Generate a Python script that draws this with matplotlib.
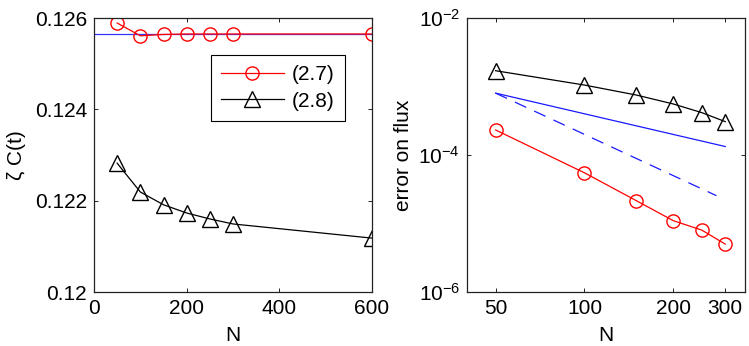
import matplotlib
matplotlib.use("Agg")
import matplotlib.pyplot as plt
from matplotlib.ticker import FixedLocator, FixedFormatter, NullLocator

plt.rcParams['font.family'] = ['Liberation Sans', 'DejaVu Sans']
plt.rcParams['font.size'] = 15
plt.rcParams['mathtext.fontset'] = 'custom'
plt.rcParams['mathtext.rm'] = 'Liberation Sans'

# left panel: zeta C(t) against N
N_left = [50, 100, 150, 200, 250, 300, 600]
zc_27 = [0.12589, 0.12561, 0.12564, 0.12565, 0.12565, 0.12565, 0.12565]
zc_28 = [0.12282, 0.12219, 0.12191, 0.12173, 0.12160, 0.12149, 0.12118]
zc_exact = 0.12566

# right panel: error on flux against N
N_right = [50, 100, 150, 200, 250, 300]
err_27 = [2.32e-4, 5.5e-5, 2.15e-5, 1.1e-5, 8.0e-6, 5.0e-6]
err_28 = [1.70e-3, 1.05e-3, 7.5e-4, 5.56e-4, 4.15e-4, 3.07e-4]
# slope reference lines (order 1 solid, order 2 dashed)
ref1_N = [50, 300]
ref1 = [8.0e-4, 1.33e-4]
ref2_N = [50, 280]
ref2 = [8.0e-4, 2.55e-5]

fig = plt.figure(figsize=(7.49, 3.46), dpi=100)
W, H = 749, 346
ax1 = fig.add_axes([94 / W, 54 / H, 278 / W, 274 / H])
ax2 = fig.add_axes([467 / W, 54 / H, 278 / W, 274 / H])

mk = dict(markerfacecolor='none', markeredgewidth=1.0, linewidth=0.9)

# left
ax1.axhline(zc_exact, color='#3333ff', lw=0.9)
ax1.plot(N_left, zc_27, color='red', marker='o', markersize=9.5, label='(2.7)', **mk)
ax1.plot(N_left, zc_28, color='black', marker='^', markersize=11, label='(2.8)', **mk)
ax1.set_xlim(0, 600)
ax1.set_ylim(0.12, 0.126)
ax1.set_xticks([0, 200, 400, 600])
ax1.set_yticks([0.12, 0.122, 0.124, 0.126])
ax1.set_yticklabels(['0.12', '0.122', '0.124', '0.126'])
ax1.set_xlabel('N', labelpad=6)
ax1.set_ylabel('ζ C(t)', labelpad=6)
leg = ax1.legend(loc='upper right', bbox_to_anchor=(0.903, 0.865), fancybox=False,
                 framealpha=1, edgecolor='black', handlelength=3.0, borderpad=0.5,
                 labelspacing=0.35, handletextpad=0.4, borderaxespad=0)
leg.get_frame().set_linewidth(0.8)

# right
ax2.loglog(N_right, err_28, color='black', marker='^', markersize=11, **mk)
ax2.loglog(ref1_N, ref1, color='#1a1aff', lw=0.9)
ax2.loglog(ref2_N, ref2, color='#1a1aff', lw=0.9, dashes=(10, 7))
ax2.loglog(N_right, err_27, color='red', marker='o', markersize=9.5, **mk)
ax2.set_xlim(40, 350)
ax2.set_ylim(1e-6, 1e-2)
ax2.xaxis.set_major_locator(FixedLocator([50, 100, 200, 300]))
ax2.xaxis.set_major_formatter(FixedFormatter(['50', '100', '200', '300']))
ax2.xaxis.set_minor_locator(NullLocator())
ax2.yaxis.set_major_locator(FixedLocator([1e-6, 1e-4, 1e-2]))
ax2.yaxis.set_minor_locator(NullLocator())
ax2.set_xlabel('N', labelpad=6)
ax2.set_ylabel('error on flux', labelpad=4)

for ax in (ax1, ax2):
    ax.tick_params(direction='in', top=True, right=True, length=3, width=0.6, pad=5)
    for s in ax.spines.values():
        s.set_linewidth(0.9)
        s.set_color('#222222')

fig.savefig('out.png', dpi=100)
